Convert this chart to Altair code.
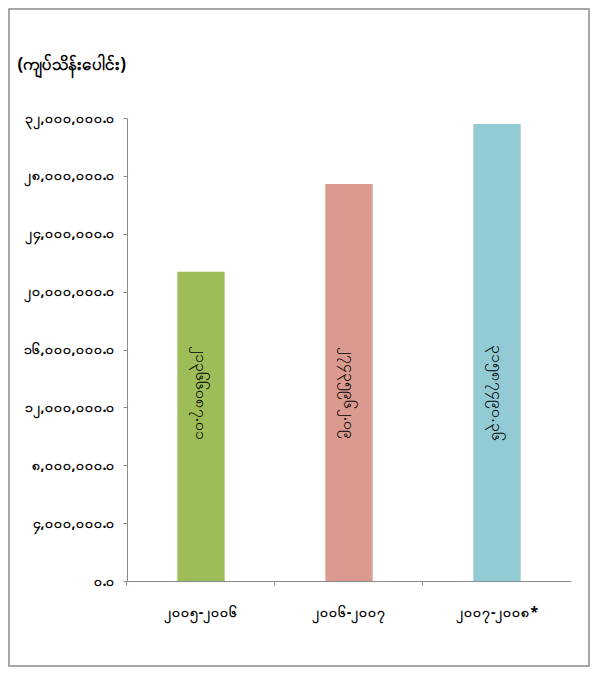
import altair as alt
import pandas as pd

categories = ["၂၀၀၅-၂၀၀၆", "၂၀၀၆-၂၀၀၇", "၂၀၀၇-၂၀၀၈*"]
values = [21366087.01, 27435962.09, 31587490.36]
bar_labels = ["၂၁၃၆၆၀၈၇.၀၁", "၂၇၄၃၅၉၆၂.၀၉", "၃၁၅၈၇၄၉၀.၃၆"]
colors = ["#9DBD58", "#DA9A8F", "#92CBD4"]
tick_values = [0, 4000000, 8000000, 12000000, 16000000, 20000000, 24000000, 28000000, 32000000]
tick_labels = ["၀.၀", "၄,၀၀၀,၀၀၀.၀", "၈,၀၀၀,၀၀၀.၀", "၁၂,၀၀၀,၀၀၀.၀", "၁၆,၀၀၀,၀၀၀.၀",
               "၂၀,၀၀၀,၀၀၀.၀", "၂၄,၀၀၀,၀၀၀.၀", "၂၈,၀၀၀,၀၀၀.၀", "၃၂,၀၀၀,၀၀၀.၀"]
unit_title = "(ကျပ်သိန်းပေါင်း)"
label_position = 13000000

df = pd.DataFrame({"year": categories, "value": values, "label": bar_labels,
                   "pos": [label_position] * 3})

FONT = "Noto Sans"
W, H = 444, 463

label_expr = "[" + ",".join("'" + t + "'" for t in tick_labels) + "][round(datum.value/4000000)]"

x_enc = alt.X("year:N", sort=categories, title=None,
              scale=alt.Scale(paddingInner=0.68, paddingOuter=0.34),
              axis=alt.Axis(labelAngle=0, labelFont=FONT, labelFontSize=14, labelFontWeight="bold",
                            labelColor="#000000", labelPadding=20, domainColor="#8a8a8a",
                            tickColor="#8a8a8a", tickSize=4, bandPosition=-1.07))

bars = alt.Chart(df).mark_bar().encode(
    x=x_enc,
    y=alt.Y("value:Q", scale=alt.Scale(domain=[0, 32000000], nice=False),
            axis=alt.Axis(values=tick_values, labelExpr=label_expr, grid=False,
                          labelFont=FONT, labelFontSize=14, labelFontWeight="bold",
                          labelColor="#000000", labelPadding=8, domainColor="#8a8a8a",
                          tickColor="#8a8a8a", tickSize=4,
                          title=unit_title, titleAngle=0, titleFont=FONT, titleFontSize=17,
                          titleFontWeight="bold", titleColor="#000000", titleAlign="left",
                          titleBaseline="middle", titleX=-110, titleY=-54)),
    color=alt.Color("year:N", sort=categories, scale=alt.Scale(domain=categories, range=colors),
                    legend=None),
)

texts = alt.Chart(df).mark_text(angle=90, font=FONT, fontSize=16, fontWeight="normal",
                                color="#000000", baseline="middle", align="center").encode(
    x=alt.X("year:N", sort=categories),
    y=alt.Y("pos:Q"),
    text="label:N",
)

frame = alt.Chart(pd.DataFrame({"a": [0]})).mark_rect(
    fill=None, stroke="#8c8c8c", strokeWidth=1.5
).encode(x=alt.value(-118), x2=alt.value(462), y=alt.value(-109), y2=alt.value(548))

chart = alt.layer(frame, bars, texts).properties(
    width=W, height=H,
    autosize=alt.AutoSizeParams(type="none"),
    padding={"left": 119, "top": 110, "right": 19, "bottom": 86},
).configure_view(stroke=None)

chart.save("out.html", embed_options={"renderer": "svg", "actions": False})
